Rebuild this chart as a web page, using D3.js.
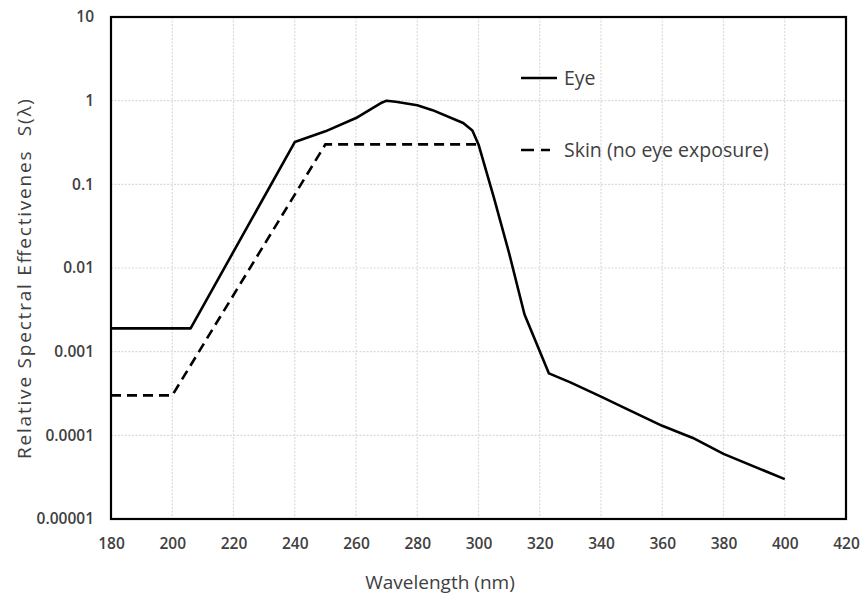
<!DOCTYPE html>
<html>
<head>
<meta charset="utf-8">
<script src="https://cdn.jsdelivr.net/npm/d3@7"></script>
<style>
  body { margin: 0; background: #fff; }
  text { font-family: "Open Sans", "Noto Sans", sans-serif; fill: #404040; }
</style>
</head>
<body>
<div id="chart"></div>
<script>
// Eye curve (wavelength nm, relative effectiveness)
var eyeNm = [180, 206, 240, 250, 260, 265, 268, 270, 273, 280, 285, 295, 298, 300, 305, 310, 315, 323, 330, 340, 348, 360, 370, 380, 400];
var eyeS = [0.0019, 0.0019, 0.32, 0.43, 0.62, 0.8, 0.93, 1.0, 0.97, 0.88, 0.77, 0.54, 0.44, 0.30, 0.07, 0.015, 0.0028, 0.00055, 0.00043, 0.00029, 0.00021, 0.00013, 0.000093, 0.00006, 0.00003];

// Skin curve
var skinNm = [180, 200, 250, 300];
var skinS = [0.0003, 0.0003, 0.3, 0.3];

// Axis ticks
var xTicks = [180, 200, 220, 240, 260, 280, 300, 320, 340, 360, 380, 400, 420];
var yTicks = [0.00001, 0.0001, 0.001, 0.01, 0.1, 1, 10];
var yTickLabels = ["0.00001", "0.0001", "0.001", "0.01", "0.1", "1", "10"];

var svgWidth = 860;
var svgHeight = 597;

var margin = { top: 17, right: 14, bottom: 78, left: 111 };
var width = svgWidth - margin.left - margin.right;
var height = svgHeight - margin.top - margin.bottom;

var svg = d3.select("#chart")
    .append("svg")
    .attr("width", svgWidth)
    .attr("height", svgHeight);

var chartGroup = svg.append("g")
    .attr("transform", `translate(${margin.left}, ${margin.top})`);

// Scales
var xScale = d3.scaleLinear().domain([180, 420]).range([0, width]);
var yScale = d3.scaleLog().domain([0.00001, 10]).range([height, 0]);

// Gridlines
chartGroup.append("g")
    .selectAll("line")
    .data(xTicks.slice(1, -1))
    .enter()
    .append("line")
    .attr("x1", d => xScale(d))
    .attr("x2", d => xScale(d))
    .attr("y1", 0)
    .attr("y2", height)
    .attr("stroke", "#dadada")
    .attr("stroke-width", 1.2)
    .attr("stroke-dasharray", "2,1.5");

chartGroup.append("g")
    .selectAll("line")
    .data(yTicks.slice(1, -1))
    .enter()
    .append("line")
    .attr("x1", 0)
    .attr("x2", width)
    .attr("y1", d => yScale(d))
    .attr("y2", d => yScale(d))
    .attr("stroke", "#dadada")
    .attr("stroke-width", 1.2)
    .attr("stroke-dasharray", "2,1.5");

// Axes (labels only, frame drawn separately)
var bottomAxis = d3.axisBottom(xScale).tickValues(xTicks).tickSize(0).tickPadding(19);
var leftAxis = d3.axisLeft(yScale).tickValues(yTicks).tickSize(0).tickPadding(17)
    .tickFormat((d, i) => yTickLabels[i]);

var xAxis = chartGroup.append("g")
    .attr("transform", `translate(0, ${height})`)
    .call(bottomAxis);

var yAxis = chartGroup.append("g")
    .call(leftAxis);

[xAxis, yAxis].forEach(a => {
    a.select(".domain").remove();
    a.selectAll("text")
        .attr("fill", "#404040")
        .style("font-size", "15.5px")
        .style("font-weight", "600");
});

// Lines
var line = d3.line()
    .x(d => xScale(d[0]))
    .y(d => yScale(d[1]));

chartGroup.append("path")
    .datum(skinNm.map((d, i) => [d, skinS[i]]))
    .attr("d", line)
    .attr("fill", "none")
    .attr("stroke", "#000")
    .attr("stroke-width", 2.6)
    .attr("stroke-dasharray", "10,6");

chartGroup.append("path")
    .datum(eyeNm.map((d, i) => [d, eyeS[i]]))
    .attr("d", line)
    .attr("fill", "none")
    .attr("stroke", "#000")
    .attr("stroke-width", 2.6)
    .attr("stroke-linejoin", "round");

// Plot frame
chartGroup.append("rect")
    .attr("x", 0)
    .attr("y", 0)
    .attr("width", width)
    .attr("height", height)
    .attr("fill", "none")
    .attr("stroke", "#000")
    .attr("stroke-width", 2.2);

// Legend
var legend = svg.append("g");

legend.append("line")
    .attr("x1", 521).attr("x2", 557)
    .attr("y1", 78).attr("y2", 78)
    .attr("stroke", "#000")
    .attr("stroke-width", 2.6);

legend.append("text")
    .attr("x", 564).attr("y", 85)
    .style("font-size", "19.5px")
    .text("Eye");

legend.append("line")
    .attr("x1", 521).attr("x2", 550)
    .attr("y1", 150).attr("y2", 150)
    .attr("stroke", "#000")
    .attr("stroke-width", 2.6)
    .attr("stroke-dasharray", "13,7");

legend.append("text")
    .attr("x", 564).attr("y", 157)
    .style("font-size", "19.5px")
    .text("Skin (no eye exposure)");

// Axis titles
svg.append("text")
    .attr("x", 440)
    .attr("y", 589)
    .attr("text-anchor", "middle")
    .style("font-size", "19px")
    .text("Wavelength (nm)");

svg.append("text")
    .attr("transform", "translate(31, 279) rotate(-90)")
    .attr("text-anchor", "middle")
    .style("font-size", "19px")
    .style("white-space", "pre")
    .attr("textLength", 360)
    .attr("lengthAdjust", "spacing")
    .text("Relative Spectral Effectivenes  S(λ)");
</script>
</body>
</html>
